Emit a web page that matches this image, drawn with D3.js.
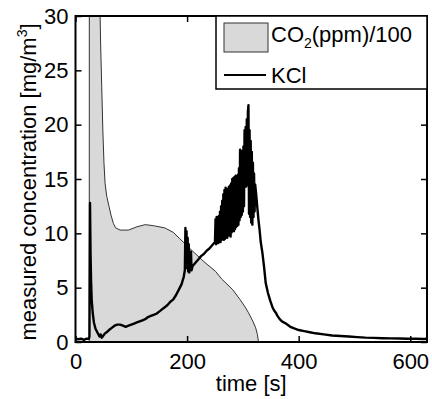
<!DOCTYPE html>
<html>
<head>
<meta charset="utf-8">
<script src="https://cdn.jsdelivr.net/npm/d3@7"></script>
<style>
  body { margin: 0; background: #fff; }
  svg { display: block; font-family: Arial, "Liberation Sans", sans-serif; }
</style>
</head>
<body>
<div id="chart"></div>
<script>
// CO2 (ppm)/100: [time s, value]
const co2Points = [
  [0, 0], [24.7, 0], [24.8, 45], [35, 44], [42, 38], [44, 30.5], [45, 27.5], [47, 23.5],
  [49, 19.5], [51, 16.5], [53, 14.6], [56, 13.4], [60, 12.5], [64, 11.6], [68, 10.9],
  [72, 10.5], [80, 10.3], [95, 10.3], [110, 10.6], [125, 10.8], [140, 10.7], [160, 10.5],
  [175, 10.1], [187, 9.5], [205, 8.6], [230, 7.4], [251, 6.5], [262, 5.8], [282, 4.8],
  [295, 3.9], [303, 3.3], [310, 2.7], [318, 1.9], [323, 1.3], [326, 0.7], [328, 0]
];

// KCl concentration [mg/m3]: [time s, value]
const kclPoints = [
  [0, 0.3], [5, 0.25], [10, 0.3], [15, 0.2], [20, 0.3], [24, 0.3], [25, 0.5],
  [26, 12.8], [27, 8], [28, 5.5], [29, 3.9], [31, 2.6], [33, 1.8], [36, 1.2], [40, 0.8],
  [43, 0.5], [45, 0.7], [47, 0.4], [50, 0.6], [53, 0.8], [56, 0.9], [60, 1.1], [65, 1.3],
  [70, 1.5], [75, 1.6], [80, 1.6], [85, 1.5], [90, 1.4], [95, 1.5], [100, 1.6], [105, 1.7],
  [110, 1.8], [115, 1.9], [120, 2.0], [125, 2.1], [130, 2.3], [135, 2.4], [140, 2.5],
  [145, 2.6], [150, 2.8], [155, 3.0], [160, 3.2], [165, 3.4], [170, 3.7], [175, 3.9],
  [180, 4.3], [185, 4.8], [190, 5.3], [194, 6.0], [196, 6.6], [197, 10.5], [198, 7.0],
  [199, 10.2], [200, 6.8], [201, 9.6], [202, 6.5], [203, 9.0], [204, 6.4], [205, 7.0],
  [207, 8.3], [208, 6.6], [210, 7.0], [215, 7.3], [220, 7.6], [225, 7.9], [230, 8.1],
  [235, 8.4], [240, 8.6], [245, 8.9], [250, 9.2],
  [251, 11.3], [252, 9.0], [253, 11.5], [254, 9.2], [255, 11.4], [256, 9.1], [257, 11.6],
  [258, 9.3], [259, 12.0], [260, 9.2], [261, 12.5], [262, 9.4], [263, 13.0], [264, 9.5],
  [265, 13.6], [266, 9.4], [267, 14.0], [268, 9.5], [269, 14.2], [270, 9.7], [271, 14.1],
  [272, 9.6], [273, 14.0], [274, 9.8], [275, 14.3], [276, 10.0], [277, 14.4], [278, 9.7],
  [279, 14.6], [280, 10.1], [281, 15.0], [282, 10.3], [283, 15.1], [284, 10.2], [285, 15.2],
  [286, 10.4], [287, 15.3], [288, 10.6], [289, 15.1], [290, 10.7], [291, 15.4], [292, 10.8],
  [293, 16.0], [294, 11.2], [295, 17.7], [296, 11.5], [297, 17.4], [298, 11.7], [299, 17.6],
  [300, 12.0], [301, 18.0], [302, 12.5], [303, 19.5], [304, 14.3], [305, 19.8], [306, 14.3],
  [307, 20.5], [308, 14.5], [309, 21.2], [310, 21.8], [311, 11.8], [312, 19.5], [313, 11.5],
  [314, 18.5], [315, 11.0], [316, 17.5], [317, 10.8], [318, 16.5], [319, 11.5], [320, 15.5],
  [321, 12.0], [322, 14.5], [324, 13.5], [326, 12.3], [328, 11.2], [330, 10.3], [332, 9.2],
  [335, 8.2], [338, 6.9], [341, 5.4], [345, 4.5], [349, 3.8], [353, 3.2], [356, 2.9],
  [359, 2.7], [362, 2.4], [366, 2.1], [370, 1.9], [377, 1.7], [385, 1.4], [392, 1.25],
  [400, 1.1], [410, 1.0], [420, 0.9], [430, 0.8], [445, 0.7], [460, 0.6], [475, 0.55],
  [490, 0.5], [505, 0.45], [520, 0.4], [535, 0.38], [550, 0.35], [565, 0.33], [580, 0.32],
  [595, 0.3], [610, 0.3], [625, 0.28], [630, 0.3]
];

const xTicks = [0, 200, 400, 600];
const yTicks = [0, 5, 10, 15, 20, 25, 30];
const xDomain = [0, 630];
const yDomain = [0, 30];

const width = 432, height = 399;
const margin = { top: 16, right: 5, bottom: 57, left: 75.5 };
const innerW = width - margin.left - margin.right;
const innerH = height - margin.top - margin.bottom;
const fontSize = 22;

const svg = d3.select("#chart").append("svg")
  .attr("width", width)
  .attr("height", height);

const g = svg.append("g")
  .attr("transform", `translate(${margin.left},${margin.top})`);

const x = d3.scaleLinear().domain(xDomain).range([0, innerW]);
const y = d3.scaleLinear().domain(yDomain).range([innerH, 0]);

g.append("clipPath").attr("id", "plot-clip")
  .append("rect").attr("width", innerW).attr("height", innerH);

const plot = g.append("g").attr("clip-path", "url(#plot-clip)");

const area = d3.area()
  .x(d => x(d[0]))
  .y0(y(0))
  .y1(d => y(d[1]));

plot.append("path")
  .datum(co2Points)
  .attr("d", area)
  .attr("fill", "#d9d9d9")
  .attr("stroke", "#333")
  .attr("stroke-width", 1);

const line = d3.line()
  .x(d => x(d[0]))
  .y(d => y(d[1]));

plot.append("path")
  .datum(kclPoints)
  .attr("d", line)
  .attr("fill", "none")
  .attr("stroke", "#000")
  .attr("stroke-width", 2.4)
  .attr("stroke-linejoin", "round");

// axes: ticks point inward, mirrored on top and right
const tickLen = 6;
const styleAxis = sel => {
  sel.select(".domain").remove();
  sel.selectAll(".tick line").attr("stroke", "#000").attr("stroke-width", 1.5);
  sel.selectAll(".tick text")
    .attr("fill", "#000")
    .style("font-size", fontSize + "px");
};

g.append("g")
  .attr("transform", `translate(0,${innerH})`)
  .call(d3.axisBottom(x).tickValues(xTicks).tickSize(-tickLen).tickPadding(11))
  .call(styleAxis);

g.append("g")
  .call(d3.axisTop(x).tickValues(xTicks).tickSize(-tickLen).tickFormat(""))
  .call(styleAxis);

g.append("g")
  .call(d3.axisLeft(y).tickValues(yTicks).tickSize(-tickLen).tickPadding(7))
  .call(styleAxis);

g.append("g")
  .attr("transform", `translate(${innerW},0)`)
  .call(d3.axisRight(y).tickValues(yTicks).tickSize(-tickLen).tickFormat(""))
  .call(styleAxis);

g.append("rect")
  .attr("width", innerW)
  .attr("height", innerH)
  .attr("fill", "none")
  .attr("stroke", "#000")
  .attr("stroke-width", 2);

// axis labels
svg.append("text")
  .attr("x", margin.left + innerW / 2)
  .attr("y", 391)
  .attr("text-anchor", "middle")
  .style("font-size", fontSize + "px")
  .text("time [s]");

const yLabel = svg.append("text")
  .attr("transform", `translate(36,${margin.top + innerH / 2 + 3}) rotate(-90)`)
  .attr("text-anchor", "middle")
  .style("font-size", fontSize + "px");
yLabel.append("tspan").text("measured concentration [mg/m");
yLabel.append("tspan").attr("dy", -9).style("font-size", "14px").text("3");
yLabel.append("tspan").attr("dy", 9).text("]");

// legend
const legend = svg.append("g").attr("transform", "translate(216,16)");
legend.append("rect")
  .attr("width", 211)
  .attr("height", 73)
  .attr("fill", "#fff")
  .attr("stroke", "#000")
  .attr("stroke-width", 1.5);

legend.append("rect")
  .attr("x", 8).attr("y", 7)
  .attr("width", 44).attr("height", 29)
  .attr("fill", "#d9d9d9")
  .attr("stroke", "#333")
  .attr("stroke-width", 1);

const co2Label = legend.append("text")
  .attr("x", 55).attr("y", 25.5)
  .style("font-size", fontSize + "px");
co2Label.append("tspan").text("CO");
co2Label.append("tspan").attr("dy", 6).style("font-size", "14px").text("2");
co2Label.append("tspan").attr("dy", -6).text("(ppm)/100");

legend.append("line")
  .attr("x1", 8).attr("x2", 50)
  .attr("y1", 59).attr("y2", 59)
  .attr("stroke", "#000")
  .attr("stroke-width", 2);

legend.append("text")
  .attr("x", 55).attr("y", 67)
  .style("font-size", fontSize + "px")
  .text("KCl");
</script>
</body>
</html>
